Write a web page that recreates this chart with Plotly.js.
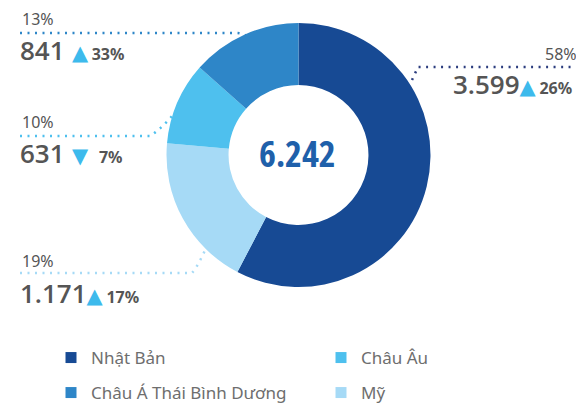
<!DOCTYPE html>
<html>
<head>
<meta charset="utf-8">
<script src="https://cdn.plot.ly/plotly-3.0.1.min.js"></script>
<style>html,body{margin:0;padding:0;background:#fff;}#chart{width:576px;height:403px;}</style>
</head>
<body>
<div id="chart"></div>
<script>
// ---- data ----
var categories = ["Nhật Bản", "Mỹ", "Châu Âu", "Châu Á Thái Bình Dương"];
var values = [3599, 1171, 631, 841];
var changes = [26, 17, -7, 33];
var colors = ["#174A94", "#A6DAF6", "#4EC0EE", "#2E86C8"];
var legendRow1 = ["Nhật Bản", "Châu Âu"];
var legendRow2 = ["Châu Á Thái Bình Dương", "Mỹ"];

// ---- layout helpers (positions in pixels -> paper) ----
var W = 576, H = 403;
function px(x) { return x / W; }
function py(y) { return 1 - y / H; }
function fmt(n) { return String(n).replace(/\B(?=(\d{3})+(?!\d))/g, "."); }

var total = values.reduce(function (a, b) { return a + b; }, 0);
var cx = 298.5, cy = 155, R = 132;

// label anchor positions (pixels), per category
var labelPos = {
  "Nhật Bản": {x: 451, pctY: 54, pctX: 543, numY: 84},
  "Mỹ": {x: 18, pctY: 261, pctX: 20, numY: 293},
  "Châu Âu": {x: 18, pctY: 122, pctX: 20, numY: 153},
  "Châu Á Thái Bình Dương": {x: 18, pctY: 19, pctX: 20, numY: 50}
};
var leaderPaths = {
  "Nhật Bản": [[412, 80], [418, 67], [428, 67], [580, 67]],
  "Mỹ": [[20, 273], [192, 273], [198, 266], [206, 248]],
  "Châu Âu": [[20, 136], [150, 136], [160, 130], [173, 115]],
  "Châu Á Thái Bình Dương": [[20, 33], [236, 33], [242, 33], [247, 36]]
};

function pathFrom(pts) {
  var p = pts.map(function (q) { return [px(q[0]), py(q[1])]; });
  return "M" + p[0][0] + "," + p[0][1] + " L" + p[1][0] + "," + p[1][1] +
    " Q" + p[2][0] + "," + p[2][1] + " " + p[3][0] + "," + p[3][1];
}

var gapAfterNum = ['', '', '&nbsp;&nbsp;', '&nbsp;&nbsp;'];
var shapes = [], annotations = [];
categories.forEach(function (c, i) {
  shapes.push({
    type: "path", xref: "paper", yref: "paper", path: pathFrom(leaderPaths[c]),
    line: {color: i === 0 ? "#2B3C7E" : colors[i], width: 2.5, dash: "2px,5.5px"}
  });
  var lp = labelPos[c];
  var pct = Math.round(values[i] / total * 100);
  annotations.push({
    xref: "paper", yref: "paper", x: px(lp.pctX), y: py(lp.pctY),
    xanchor: "left", yanchor: "middle", showarrow: false,
    text: pct + "%", font: {family: "Noto Sans", size: 16, color: "#555555"}
  });
  var tri = changes[i] >= 0 ? "▲" : "▼";
  annotations.push({
    xref: "paper", yref: "paper", x: px(lp.x), y: py(lp.numY),
    xanchor: "left", yanchor: "middle", showarrow: false,
    text: '<span style="font-size:26px;font-family:Open Sans;font-weight:600;font-stretch:94%">' + fmt(values[i]) + '</span>' +
      '<span style="font-size:14px">' + gapAfterNum[i] + '</span>' +
      '<span style="font-size:21px;color:#3DBAEC;font-family:DejaVu Sans">' + tri + '</span>' +
      '<span style="font-size:14px">' + (changes[i] < 0 ? '&nbsp;&nbsp;&nbsp;' : '&nbsp;') + '</span>' +
      '<b>' + Math.abs(changes[i]) + '%</b>',
    font: {family: "Noto Sans", size: 16, color: "#555555"}
  });
});

annotations.push({
  xref: "paper", yref: "paper", x: px(297), y: py(153.5), xanchor: "center", yanchor: "middle",
  showarrow: false,
  text: '<span style="font-stretch:75%;font-weight:bold">' + fmt(total) + '</span>',
  font: {family: "Open Sans", size: 36, color: "#1F60AA"}
});

var traces = [{
  type: "pie", labels: categories, values: values, sort: false, direction: "clockwise",
  rotation: 0, hole: 0.53, textinfo: "none", hoverinfo: "none", showlegend: false,
  marker: {colors: colors, line: {width: 0}},
  domain: {x: [px(cx - R), px(cx + R)], y: [py(cy + R), py(cy - R)]}
}];
function legendTrace(name, leg) {
  var i = categories.indexOf(name);
  return {
    type: "scatter", mode: "markers", x: [null], y: [null], name: name, legend: leg,
    marker: {symbol: "square", size: 11, color: colors[i]}, hoverinfo: "skip", showlegend: true
  };
}
legendRow1.forEach(function (n) { traces.push(legendTrace(n, "legend")); });
legendRow2.forEach(function (n) { traces.push(legendTrace(n, "legend2")); });

var legFont = {family: "Noto Sans", size: 17, color: "#6e6e6e"};
var layout = {
  width: W, height: H, margin: {l: 0, r: 0, t: 0, b: 0, autoexpand: false},
  paper_bgcolor: "#ffffff", plot_bgcolor: "#ffffff",
  xaxis: {visible: false}, yaxis: {visible: false},
  showlegend: true,
  legend: {orientation: "h", x: px(51), y: py(358), xanchor: "left", yanchor: "middle",
    entrywidth: 225, entrywidthmode: "pixels", font: legFont, bgcolor: "rgba(0,0,0,0)"},
  legend2: {orientation: "h", x: px(51), y: py(393), xanchor: "left", yanchor: "middle",
    entrywidth: 225, entrywidthmode: "pixels", font: legFont, bgcolor: "rgba(0,0,0,0)"},
  shapes: shapes, annotations: annotations, hovermode: false
};
Plotly.newPlot("chart", traces, layout, {displayModeBar: false, staticPlot: true});
</script>
</body>
</html>
